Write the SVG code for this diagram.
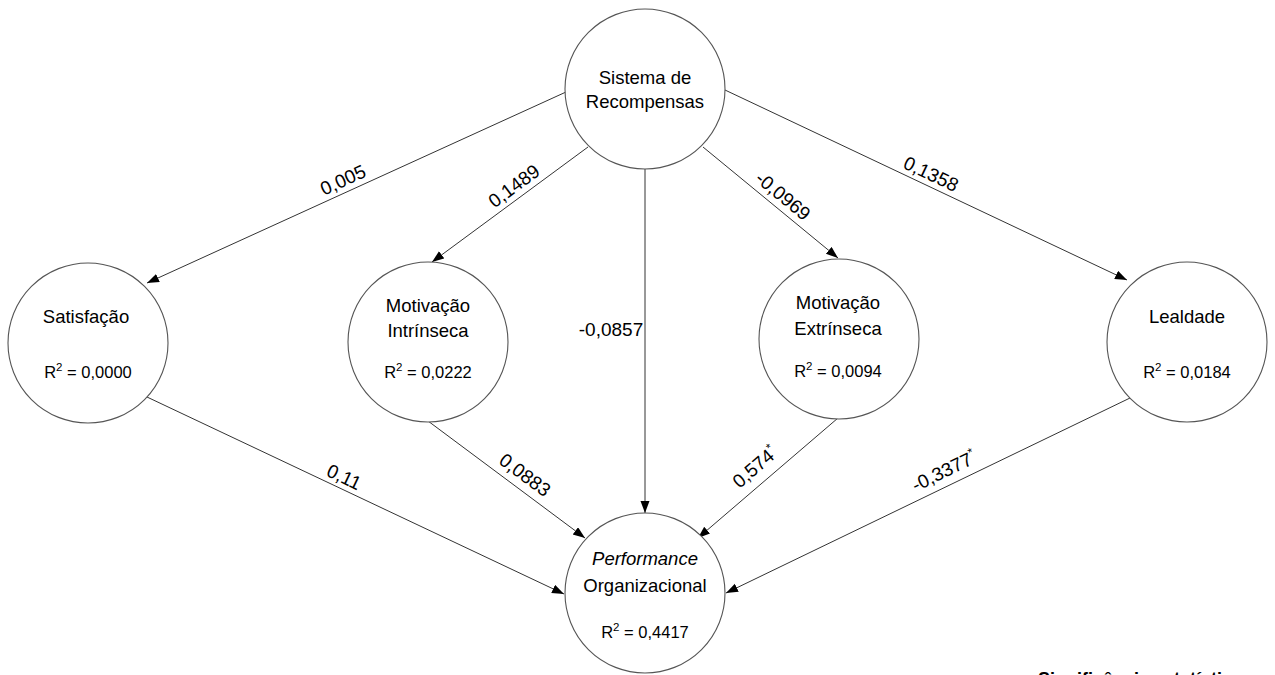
<svg xmlns="http://www.w3.org/2000/svg" width="1275" height="675" viewBox="0 0 1275 675">
<style>
.node{fill:#fff;stroke:#555;stroke-width:1.1}
.lbl{font-family:"Liberation Sans",Arial,sans-serif;font-size:18.5px;fill:#000;text-anchor:middle}
.r2{font-family:"Liberation Sans",Arial,sans-serif;font-size:16.5px;fill:#000;text-anchor:middle}
.sup{font-size:11.5px}
.ast{font-size:12px}
.edge{stroke:#333;stroke-width:1;fill:none;marker-end:url(#arr)}
.el{font-family:"Liberation Sans",Arial,sans-serif;font-size:19px;fill:#000;text-anchor:middle}
.note{font-family:"Liberation Sans",Arial,sans-serif;font-size:18px;font-weight:bold;fill:#000}
</style>
<defs>
<marker id="arr" markerUnits="userSpaceOnUse" markerWidth="12" markerHeight="10" refX="12" refY="4.5" orient="auto">
<path d="M0,0 L12,4.5 L0,9 z" fill="#000"/>
</marker>
</defs>
<rect width="1275" height="675" fill="#fff"/>
<g id="connectors">
<line class="edge" x1="566" y1="92" x2="147" y2="283"/>
<line class="edge" x1="588" y1="147" x2="432" y2="262"/>
<line class="edge" x1="645" y1="169" x2="645" y2="513"/>
<line class="edge" x1="703" y1="147" x2="838" y2="258"/>
<line class="edge" x1="725" y1="90" x2="1127" y2="280"/>
<line class="edge" x1="147" y1="397" x2="564" y2="594"/>
<line class="edge" x1="428" y1="421" x2="585" y2="538"/>
<line class="edge" x1="838" y1="418" x2="698" y2="538"/>
<line class="edge" x1="1130" y1="398" x2="726" y2="593"/>
<text class="el" transform="translate(343,180) rotate(-24.5)" dy="6.5">0,005</text>
<text class="el" transform="translate(514,186) rotate(-36.6)" dy="6.5">0,1489</text>
<text class="el" x="611" y="336">-0,0857</text>
<text class="el" transform="translate(783,196) rotate(39.7)" dy="6.5">-0,0969</text>
<text class="el" transform="translate(931,174) rotate(25.3)" dy="6.5">0,1358</text>
<text class="el" transform="translate(344,477) rotate(25.4)" dy="6.5">0,11</text>
<text class="el" transform="translate(525,475) rotate(36.7)" dy="6.5">0,0883</text>
<text class="el" transform="translate(755,467) rotate(-40.6)" dy="6.5">0,574<tspan class="ast" dy="-8">*</tspan></text>
<text class="el" transform="translate(944,471) rotate(-25.8)" dy="6.5">-0,3377<tspan class="ast" dy="-8">*</tspan></text>
</g>
<g id="sistema">
<circle class="node" cx="645" cy="89" r="80"/>
<text class="lbl" x="645" y="84">Sistema de</text>
<text class="lbl" x="645" y="108">Recompensas</text>
</g>
<g id="satisfacao">
<circle class="node" cx="88" cy="343" r="80"/>
<text class="lbl" x="86" y="323">Satisfação</text>
<text class="r2" x="88" y="378">R<tspan class="sup" dy="-7">2</tspan><tspan dy="7"> = 0,0000</tspan></text>
</g>
<g id="motivacao-intrinseca">
<circle class="node" cx="428" cy="342" r="80"/>
<text class="lbl" x="428" y="312">Motivação</text>
<text class="lbl" x="428" y="337">Intrínseca</text>
<text class="r2" x="428" y="378">R<tspan class="sup" dy="-7">2</tspan><tspan dy="7"> = 0,0222</tspan></text>
</g>
<g id="motivacao-extrinseca">
<circle class="node" cx="839" cy="339" r="80"/>
<text class="lbl" x="838" y="309">Motivação</text>
<text class="lbl" x="838" y="335">Extrínseca</text>
<text class="r2" x="838" y="377">R<tspan class="sup" dy="-7">2</tspan><tspan dy="7"> = 0,0094</tspan></text>
</g>
<g id="lealdade">
<circle class="node" cx="1187" cy="342" r="80"/>
<text class="lbl" x="1187" y="323">Lealdade</text>
<text class="r2" x="1187" y="378">R<tspan class="sup" dy="-7">2</tspan><tspan dy="7"> = 0,0184</tspan></text>
</g>
<g id="performance">
<circle class="node" cx="645" cy="593" r="80"/>
<text class="lbl" x="645" y="565" font-style="italic">Performance</text>
<text class="lbl" x="645" y="592">Organizacional</text>
<text class="r2" x="645" y="638">R<tspan class="sup" dy="-7">2</tspan><tspan dy="7"> = 0,4417</tspan></text>
</g>
<text class="note" x="1038" y="685">Significância estatística ao</text>
</svg>
